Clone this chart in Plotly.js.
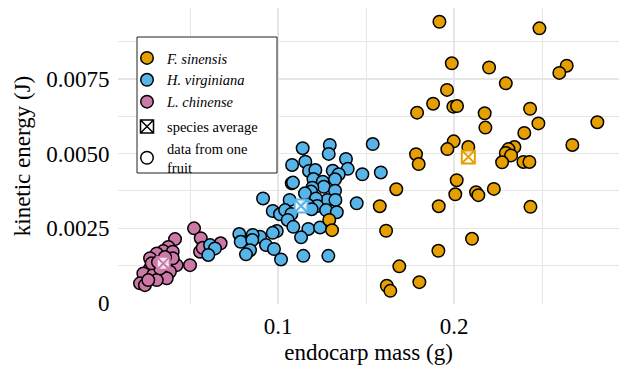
<!DOCTYPE html>
<html><head><meta charset="utf-8">
<script src="https://cdn.plot.ly/plotly-3.0.1.min.js"></script>
<style>
html,body{margin:0;padding:0;background:#fff}
#chart{width:619px;height:365px}
#chart svg text{font-family:'Liberation Serif','Times New Roman','DejaVu Serif',serif !important}
</style>
</head><body><div id="chart"></div>
<script>
// ---- data ----
const speciesNames = ['<i>F. sinensis</i>', '<i>H. virginiana</i>', '<i>L. chinense</i>'];

const fsX = [0.1917,0.2485,0.1987,0.2199,0.2640,0.2598,0.2294,0.1960,0.1881,0.1790,
             0.1996,0.2017,0.2174,0.2432,0.2178,0.2479,0.2814,0.2399,0.2672,0.1998,
             0.1962,0.2081,0.1784,0.1799,0.2343,0.2309,0.2294,0.2324,0.2273,0.2394,
             0.2428,0.2015,0.1672,0.2007,0.2125,0.2138,0.2226,0.1578,0.1913,0.2434,
             0.1614,0.2102,0.1911,0.1689,0.1803,0.1618,0.1638,0.1291,0.1307];
const fsY = [0.00941,0.00919,0.00802,0.00788,0.00794,0.00770,0.00735,0.00713,0.00667,0.00637,
             0.00657,0.00659,0.00635,0.00650,0.00587,0.00601,0.00605,0.00569,0.00529,0.00541,
             0.00515,0.00522,0.00498,0.00465,0.00522,0.00515,0.00502,0.00494,0.00471,0.00472,
             0.00472,0.00411,0.00381,0.00364,0.00371,0.00361,0.00382,0.00324,0.00324,0.00322,
             0.00242,0.00215,0.00175,0.00123,0.00070,0.00058,0.00041,0.00278,0.00244];

const hvX = [0.1140,0.1294,0.1288,0.1155,0.1386,0.1080,0.1396,0.1176,0.1212,0.1311,
             0.1345,0.1479,0.1201,0.1254,0.1078,0.1085,0.1324,0.1260,0.1195,0.1324,
             0.1188,0.1153,0.0915,0.1066,0.1280,0.1326,0.1216,0.1223,0.1170,0.1447,
             0.1273,0.1334,0.1191,0.0970,0.1011,0.1040,0.1076,0.1055,0.1087,0.1172,
             0.1239,0.1131,0.0993,0.0970,0.0898,0.0856,0.0780,0.0788,0.0854,0.0932,
             0.0977,0.0841,0.0818,0.1017,0.1144,0.1286,0.1538,0.1584,0.0614,0.0642,0.0604];
const hvY = [0.00518,0.00529,0.00499,0.00473,0.00482,0.00462,0.00449,0.00442,0.00445,0.00443,
             0.00431,0.00431,0.00415,0.00406,0.00401,0.00403,0.00414,0.00389,0.00386,0.00376,
             0.00373,0.00367,0.00350,0.00345,0.00345,0.00345,0.00350,0.00325,0.00328,0.00334,
             0.00311,0.00304,0.00314,0.00308,0.00297,0.00311,0.00298,0.00278,0.00255,0.00248,
             0.00253,0.00220,0.00241,0.00235,0.00222,0.00228,0.00231,0.00205,0.00211,0.00194,
             0.00181,0.00177,0.00163,0.00146,0.00158,0.00158,0.00532,0.00437,0.00194,0.00183,0.00161];

const lcX = [0.0523,0.0561,0.0674,0.0557,0.0572,0.0415,0.0377,0.0348,0.0311,0.0273,
             0.0402,0.0424,0.0500,0.0386,0.0273,0.0235,0.0291,0.0348,0.0368,0.0311,
             0.0216,0.0244,0.0263,0.0330,0.0282,0.0402,0.0318,0.0358];
const lcY = [0.00250,0.00217,0.00200,0.00172,0.00185,0.00214,0.00188,0.00174,0.00166,0.00150,
             0.00172,0.00127,0.00127,0.00105,0.00116,0.00099,0.00094,0.00088,0.00083,0.00077,
             0.00066,0.00060,0.00077,0.00116,0.00133,0.00150,0.00137,0.00154];

// species averages: F. sinensis, H. virginiana, L. chinense
const avgX = [0.2081, 0.1131, 0.0348];
const avgY = [0.00489, 0.00325, 0.00133];

const xTickVals = [0.1, 0.2];
const xTickText = ['0.1', '0.2'];
const xMinorVals = [0.05, 0.15, 0.25];
const yTickVals = [0, 0.0025, 0.005, 0.0075];
const yTickText = ['0', '0.0025', '0.0050', '0.0075'];
const yMinorVals = [0.00125, 0.00375, 0.00625, 0.00875];

// ---- styling ----
const colors = ['#E69F00', '#56B4E9', '#CC79A7'];
const serifFam = 'Times New Roman';
const gridCol = '#e6e6e6';
const ptSize = 12.5;

const xs = [fsX, hvX, lcX], ys = [fsY, hvY, lcY];
const traces = [];
// draw order: L. chinense, H. virginiana, F. sinensis
[2, 1, 0].forEach(i => {
  traces.push({
    type: 'scatter', mode: 'markers', x: xs[i], y: ys[i],
    name: speciesNames[i], legendgroup: 'species', legendrank: i + 1,
    marker: {color: colors[i], size: ptSize, line: {color: '#000', width: 1.5}},
    hoverinfo: 'skip'
  });
});
[2, 1, 0].forEach(i => {
  traces.push({
    type: 'scatter', mode: 'markers', x: [avgX[i]], y: [avgY[i]],
    showlegend: false,
    marker: {symbol: 'square-x', color: 'rgba(255,255,255,0.85)', size: 13,
             line: {color: colors[i], width: 2}},
    hoverinfo: 'skip'
  });
});
traces.push({
  type: 'scatter', mode: 'markers', x: [null], y: [null],
  name: 'species average', legendgroup: 'key', legendrank: 10,
  marker: {symbol: 'square-x', color: '#fff', size: 13, line: {color: '#000', width: 1.5}}
});
traces.push({
  type: 'scatter', mode: 'markers', x: [null], y: [null],
  name: 'data from one<br>fruit', legendgroup: 'key', legendrank: 11,
  marker: {symbol: 'circle', color: '#fff', size: ptSize, line: {color: '#000', width: 1.5}}
});

// plot-area geometry helpers for the legend frame
const L = 118, R = 0, T = 8, B = 61, W = 619, H = 365;
const pw = W - L - R, ph = H - T - B;
const px = v => (v - L) / pw;
const py = v => (H - B - v) / ph;

const layout = {
  width: W, height: H,
  margin: {l: L, r: R, t: T, b: B, pad: 0},
  paper_bgcolor: '#fff', plot_bgcolor: '#fff',
  showlegend: true,
  xaxis: {
    range: [0.0091, 0.2937],
    tickmode: 'array', tickvals: xTickVals, ticktext: xTickText,
    ticks: 'outside', ticklen: 1, tickcolor: 'rgba(0,0,0,0)',
    tickfont: {family: serifFam, size: 23, color: '#000'},
    showgrid: true, gridcolor: gridCol, gridwidth: 1.5,
    minor: {tickvals: xMinorVals, showgrid: true, gridcolor: gridCol, gridwidth: 1},
    zeroline: false, showline: false,
    title: {text: 'endocarp mass (g)', font: {family: serifFam, size: 23, color: '#000'}, standoff: 14},
    automargin: false
  },
  yaxis: {
    range: [-0.00003, 0.00987],
    tickmode: 'array', tickvals: yTickVals, ticktext: yTickText,
    ticks: 'outside', ticklen: 3, tickcolor: 'rgba(0,0,0,0)',
    tickfont: {family: serifFam, size: 23, color: '#000'},
    showgrid: true, gridcolor: gridCol, gridwidth: 1.5,
    minor: {tickvals: yMinorVals, showgrid: true, gridcolor: gridCol, gridwidth: 1},
    zeroline: false, showline: false,
    title: {text: 'kinetic energy (J)', font: {family: serifFam, size: 23, color: '#000'}, standoff: 9},
    automargin: false
  },
  legend: {
    x: px(127), y: py(42), xanchor: 'left', yanchor: 'top',
    bgcolor: 'rgba(0,0,0,0)', borderwidth: 0,
    font: {family: serifFam, size: 14.5, color: '#000'},
    traceorder: 'grouped', tracegroupgap: 3,
    itemwidth: 30
  },
  shapes: [{
    type: 'rect', xref: 'paper', yref: 'paper', layer: 'above',
    x0: px(137), x1: px(277), y0: py(173), y1: py(37),
    fillcolor: '#fff', line: {color: '#222', width: 1}
  }]
};

Plotly.newPlot('chart', traces, layout, {displayModeBar: false, staticPlot: true});
</script>
</body></html>
